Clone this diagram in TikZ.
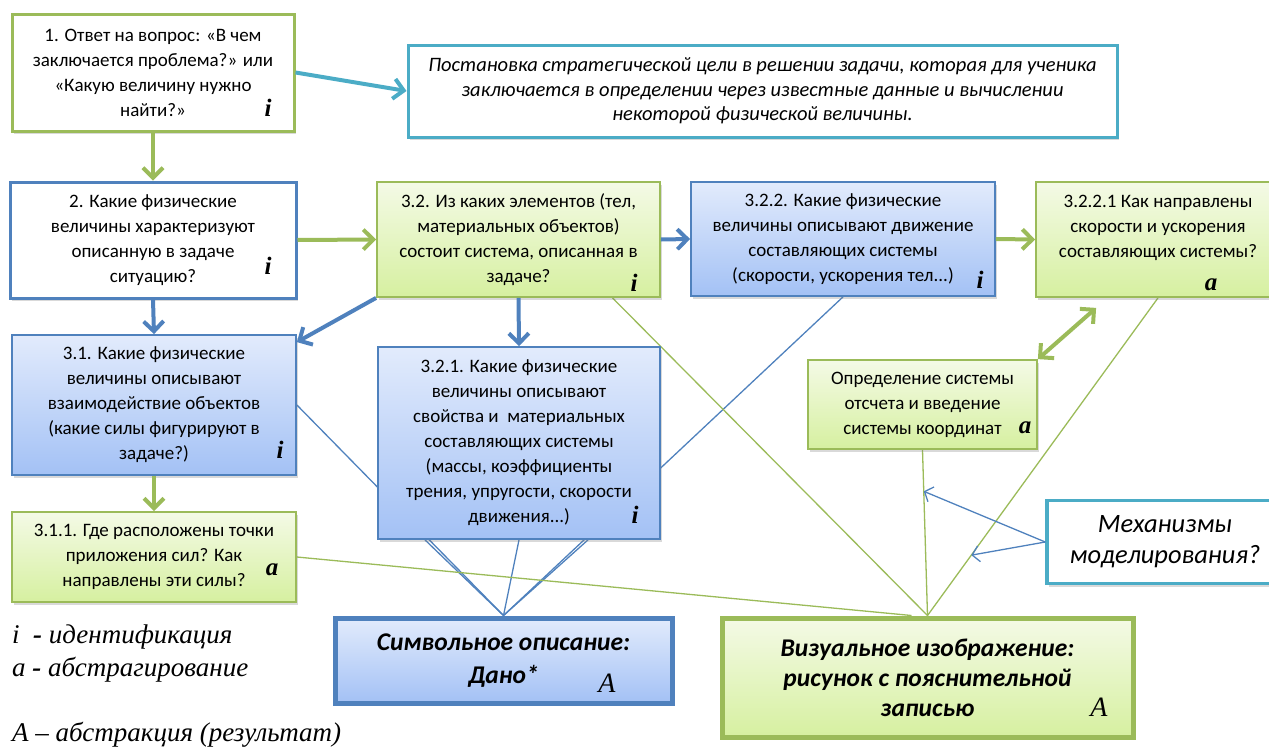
\documentclass[tikz,border=0pt]{standalone}
\usepackage{fontspec}
\setmainfont{Carlito}
\newfontfamily\serifit{Liberation Serif}
\usetikzlibrary{arrows.meta,calc,shadows,backgrounds}

\definecolor{grn}{HTML}{9BBB59}
\definecolor{blu}{HTML}{4F81BD}
\definecolor{cyn}{HTML}{4BACC6}
\definecolor{grntop}{RGB}{244,250,230}
\definecolor{grnbot}{RGB}{214,240,160}
\definecolor{blutop}{RGB}{226,235,252}
\definecolor{blubot}{RGB}{163,193,245}

\tikzset{
  box/.style={rectangle, align=center, inner sep=2pt,
    font=\fontsize{19}{25}\selectfont,
    drop shadow={opacity=0.3, shadow xshift=2pt, shadow yshift=-3pt}},
  whitebox/.style={box, draw=#1, line width=3pt, fill=white},
  grnbox/.style={box, draw=grn, line width=1.8pt, top color=grntop, bottom color=grnbot},
  blubox/.style={box, draw=blu, line width=1.8pt, top color=blutop, bottom color=blubot},
  tag/.style={font=\serifit\bfseries\itshape\fontsize{25}{25}\selectfont, inner sep=0pt},
  legend/.style={anchor=west, inner sep=0pt, font=\serifit\itshape\fontsize{27}{27}\selectfont},
  fatarrow/.style={draw=#1, line width=4pt, -{Straight Barb[length=10pt,width=20pt]}},
  thinline/.style={draw=#1, line width=1.3pt},
}

\begin{document}
\begin{tikzpicture}[x=1pt, y=-1pt]
    \useasboundingbox (0,0) rectangle (1269,747);

    % вопросы 1 и 2
    \node[whitebox=grn, minimum width=282pt, minimum height=117pt] (q1) at (153,72.5)
        {1. Ответ на вопрос: «В чем\\ заключается проблема?» или\\ «Какую величину нужно\\ найти?»};
    \node[tag] (t1) at (268,108) {i};
    \node[whitebox=cyn, minimum width=709pt, minimum height=92pt,
        font=\itshape\fontsize{20.5}{24.5}\selectfont] (goal) at (762.5,91)
        {Постановка стратегической цели в решении задачи, которая для ученика\\
         заключается в определении через известные данные и вычислении\\
         некоторой физической величины.};
    \node[whitebox=blu, minimum width=286pt, minimum height=116pt] (q2) at (153,240)
        {2. Какие физические\\ величины характеризуют\\ описанную в задаче\\ ситуацию?};
    \node[tag] (t2) at (268,266) {i};

    % ветка 3.2
    \node[grnbox, minimum width=283pt, minimum height=115pt] (q32) at (518.5,239.5)
        {3.2. Из каких элементов (тел,\\ материальных объектов)\\ состоит система, описанная в\\ задаче?};
    \node[tag] (t32) at (634,283) {i};
    \node[blubox, minimum width=304pt, minimum height=114pt] (q322) at (843,239)
        {3.2.2. Какие физические\\ величины описывают движение\\ составляющих системы\\ (скорости, ускорения тел...)};
    \node[tag] (t322) at (980,280) {i};
    \node[grnbox, minimum width=244pt, minimum height=115pt, text depth=26pt] (q3221) at (1158,239.5)
        {3.2.2.1 Как направлены\\ скорости и ускорения\\ составляющих системы?};
    \node[tag] (t3221) at (1211,285) {a};
    \node[blubox, minimum width=282pt, minimum height=192pt] (q321) at (519,443)
        {3.2.1. Какие физические\\ величины описывают\\ свойства и\ \ материальных\\ составляющих системы\\
         (массы, коэффициенты\\ трения, упругости, скорости\\ движения...)};
    \node[tag] (t321) at (635,515) {i};

    % ветка 3.1
    \node[blubox, minimum width=284pt, minimum height=140pt] (q31) at (154,405)
        {3.1. Какие физические\\ величины описывают\\ взаимодействие объектов\\ (какие силы фигурируют в\\ задаче?)};
    \node[tag] (t31) at (280,450) {i};
    \node[grnbox, minimum width=284pt, minimum height=90pt] (q311) at (154,557)
        {3.1.1. Где расположены точки\\ приложения сил? Как\\ направлены эти силы?};
    \node[tag] (t311) at (272,570) {a};

    % система отсчета и механизмы
    \node[grnbox, minimum width=229pt, minimum height=89pt] (frame) at (922.5,404.5)
        {Определение системы\\ отсчета и введение\\ системы координат};
    \node[tag] (tframe) at (1025,428) {a};
    \node[whitebox=cyn, line width=3.5pt, minimum width=236pt, minimum height=83pt,
        font=\itshape\fontsize{26.5}{31}\selectfont] (mech) at (1165,542)
        {Механизмы\\ моделирования?};

    % результаты
    \node[blubox, line width=5pt, minimum width=337pt, minimum height=85pt,
        font=\bfseries\itshape\fontsize{25.5}{33}\selectfont] (sym) at (503.5,660.5)
        {Символьное описание:\\ Дано*};
    \node[tag, font=\serifit\itshape\fontsize{28}{28}\selectfont] (tsym) at (607,683) {A};
    \node[grnbox, line width=5pt, minimum width=411pt, minimum height=119pt,
        font=\bfseries\itshape\fontsize{25.5}{30}\selectfont] (vis) at (927.5,677.5)
        {Визуальное изображение:\\ рисунок с пояснительной\\ записью};
    \node[tag, font=\serifit\itshape\fontsize{28}{28}\selectfont] (tvis) at (1099,707) {A};

    % легенда
    \node[legend] (li) at (12,637) {i\ \ {\bfseries -} идентификация};
    \node[legend] (la) at (12,670) {a {\bfseries -} абстрагирование};
    \node[legend] (lA) at (12,735) {A – абстракция (результат)};

    % тонкие линии под блоками
    \begin{scope}[on background layer]
        \draw[thinline=blu] (q31.east) -- (sym.north);
        \draw[thinline=blu] ($(q321.south)+(-94,0)$) -- (sym.north);
        \draw[thinline=blu] (q321.south) -- (sym.north);
        \draw[thinline=blu] ($(q321.south)+(69,0)$) -- (sym.north);
        \draw[thinline=blu] (q322.south) -- (sym.north);
        \draw[thinline=grn] ($(q32.south)+(94,0)$) -- (vis.north);
        \draw[thinline=grn] (q3221.south) -- (vis.north);
        \draw[thinline=grn] (frame.south) -- (vis.north);
        \draw[thinline=grn] (q311.east) -- ($(vis.north)+(-16,0)$);
    \end{scope}

    % стрелки
    \draw[fatarrow=grn] (q1.south) -- (q2.north);
    \draw[fatarrow=cyn] (q1.east) -- (goal.west);
    \draw[fatarrow=grn] (q2.east) -- (q32.west);
    \draw[fatarrow=blu] (q2.south) -- (q31.north);
    \draw[fatarrow=blu] (q32.south west) -- ($(q31.north east)+(0,8)$);
    \draw[fatarrow=blu] (q32.south) -- (q321.north);
    \draw[fatarrow=blu] (q32.east) -- (q322.west);
    \draw[fatarrow=grn] (q322.east) -- (q3221.west);
    \draw[fatarrow=grn] (q31.south) -- (q311.north);
    \draw[fatarrow=grn, {Straight Barb[length=10pt,width=20pt]}-{Straight Barb[length=10pt,width=20pt]}]
        (frame.north east) -- ($(q3221.south west)+(61,10)$);
    \draw[thinline=blu, -{Straight Barb[length=7pt,width=16pt]}] (mech.west) -- ($(frame.south)!0.25!(vis.north)$);
    \draw[thinline=blu, -{Straight Barb[length=7pt,width=16pt]}] (mech.west) -- ($(q3221.south)!0.81!(vis.north)$);
\end{tikzpicture}
\end{document}
